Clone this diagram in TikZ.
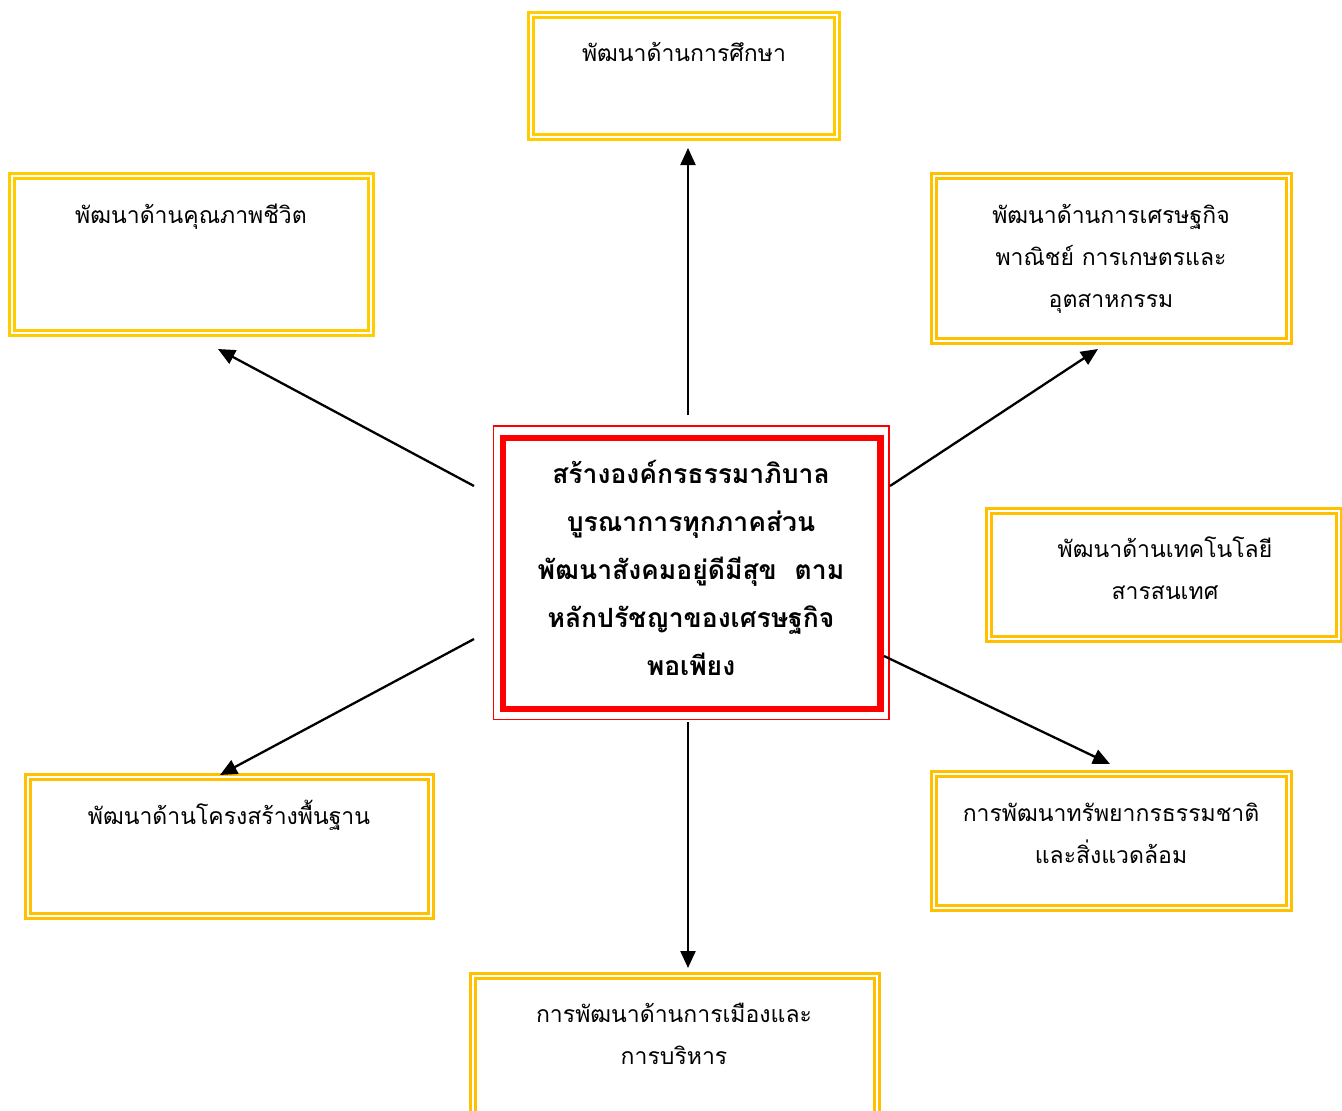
\documentclass[tikz,border=0pt]{standalone}
\usepackage{fontspec}
\newfontfamily\thaifont[Script=Thai]{Loma}
\usetikzlibrary{arrows.meta}
\definecolor{goldA}{HTML}{FFCC00}
\definecolor{goldB}{HTML}{FFC000}
\definecolor{redA}{HTML}{FF0000}
\tikzset{
  ybox/.style={draw=#1, double=white, line width=2.8pt, double distance=2.2pt, inner sep=0pt, outer sep=0pt},
  thinred/.style={draw=redA, line width=1.8pt, inner sep=0pt, outer sep=0pt},
  thickred/.style={draw=redA, line width=6.5pt, inner sep=0pt, outer sep=0pt},
  ytext/.style={anchor=base, inner sep=0pt, font=\thaifont\fontsize{23}{42}\selectfont},
  ctext/.style={anchor=base, inner sep=0pt, font=\thaifont\bfseries\fontsize{26.5}{48}\selectfont},
  arr/.style={draw=black, line width=2.3pt, -{Triangle[length=17pt,width=15pt]}}
}
\newcommand{\tlines}[1]{\setlength{\tabcolsep}{0pt}\begin{tabular}[t]{c}#1\end{tabular}}
\begin{document}
\begin{tikzpicture}[x=1pt,y=-1pt]
\useasboundingbox (0,0) rectangle (1342,1111);
\clip (0,0) rectangle (1342,1111);
\fill[white] (0,0) rectangle (1342,1111);
% yellow boxes
\node[ybox=goldA, minimum width=306pt, minimum height=122pt] (b1) at (684,76) {};
\node[ybox=goldA, minimum width=359pt, minimum height=157pt] (b2) at (191.5,254.5) {};
\node[ybox=goldB, minimum width=355pt, minimum height=165pt] (b3) at (1111.5,258.5) {};
\node[ybox=goldB, minimum width=350pt, minimum height=128pt] (b4) at (1164,575) {};
\node[ybox=goldB, minimum width=403pt, minimum height=139pt] (b5) at (229.5,846.5) {};
\node[ybox=goldB, minimum width=355pt, minimum height=134pt] (b6) at (1111.5,841) {};
\node[ybox=goldB, minimum width=404pt, minimum height=160pt] (b7) at (675,1056) {};
% texts
\node[ytext] (t1) at (684,61) {\tlines{พัฒนาด้านการศึกษา}};
\node[ytext] (t2) at (191,223) {\tlines{พัฒนาด้านคุณภาพชีวิต}};
\node[ytext] (t3) at (1111,223) {\tlines{พัฒนาด้านการเศรษฐกิจ\\พาณิชย์ การเกษตรและ\\อุตสาหกรรม}};
\node[ytext] (t4) at (1165,557) {\tlines{พัฒนาด้านเทคโนโลยี\\สารสนเทศ}};
\node[ytext] (t5) at (229,824) {\tlines{พัฒนาด้านโครงสร้างพื้นฐาน}};
\node[ytext] (t6) at (1111,821) {\tlines{การพัฒนาทรัพยากรธรรมชาติ\\และสิ่งแวดล้อม}};
\node[ytext] (t7) at (674,1022) {\tlines{การพัฒนาด้านการเมืองและ\\การบริหาร}};
% center box
\node[thinred, minimum width=395.5pt, minimum height=293.5pt] (cframe) at (691.25,572.75) {};
\node[thickred, minimum width=377.5pt, minimum height=271pt] (cbox) at (691.75,573.5) {};
\node[ctext] (ct) at (691,483) {\tlines{สร้างองค์กรธรรมาภิบาล\\บูรณาการทุกภาคส่วน\\พัฒนาสังคมอยู่ดีมีสุข~~ตาม\\หลักปรัชญาของเศรษฐกิจ\\พอเพียง}};
% connector ends
\coordinate (s1) at (688,415); \coordinate (e1) at (688,148);
\coordinate (s2) at (474,486); \coordinate (e2) at (218,349);
\coordinate (s3) at (890,486); \coordinate (e3) at (1098,349);
\coordinate (s4) at (474,639); \coordinate (e4) at (220,775);
\coordinate (s5) at (884,656); \coordinate (e5) at (1110,764);
\coordinate (s6) at (688,722); \coordinate (e6) at (688,968);
\draw[arr] (s1) -- (e1);
\draw[arr] (s2) -- (e2);
\draw[arr] (s3) -- (e3);
\draw[arr] (s4) -- (e4);
\draw[arr] (s5) -- (e5);
\draw[arr] (s6) -- (e6);
\end{tikzpicture}
\end{document}
